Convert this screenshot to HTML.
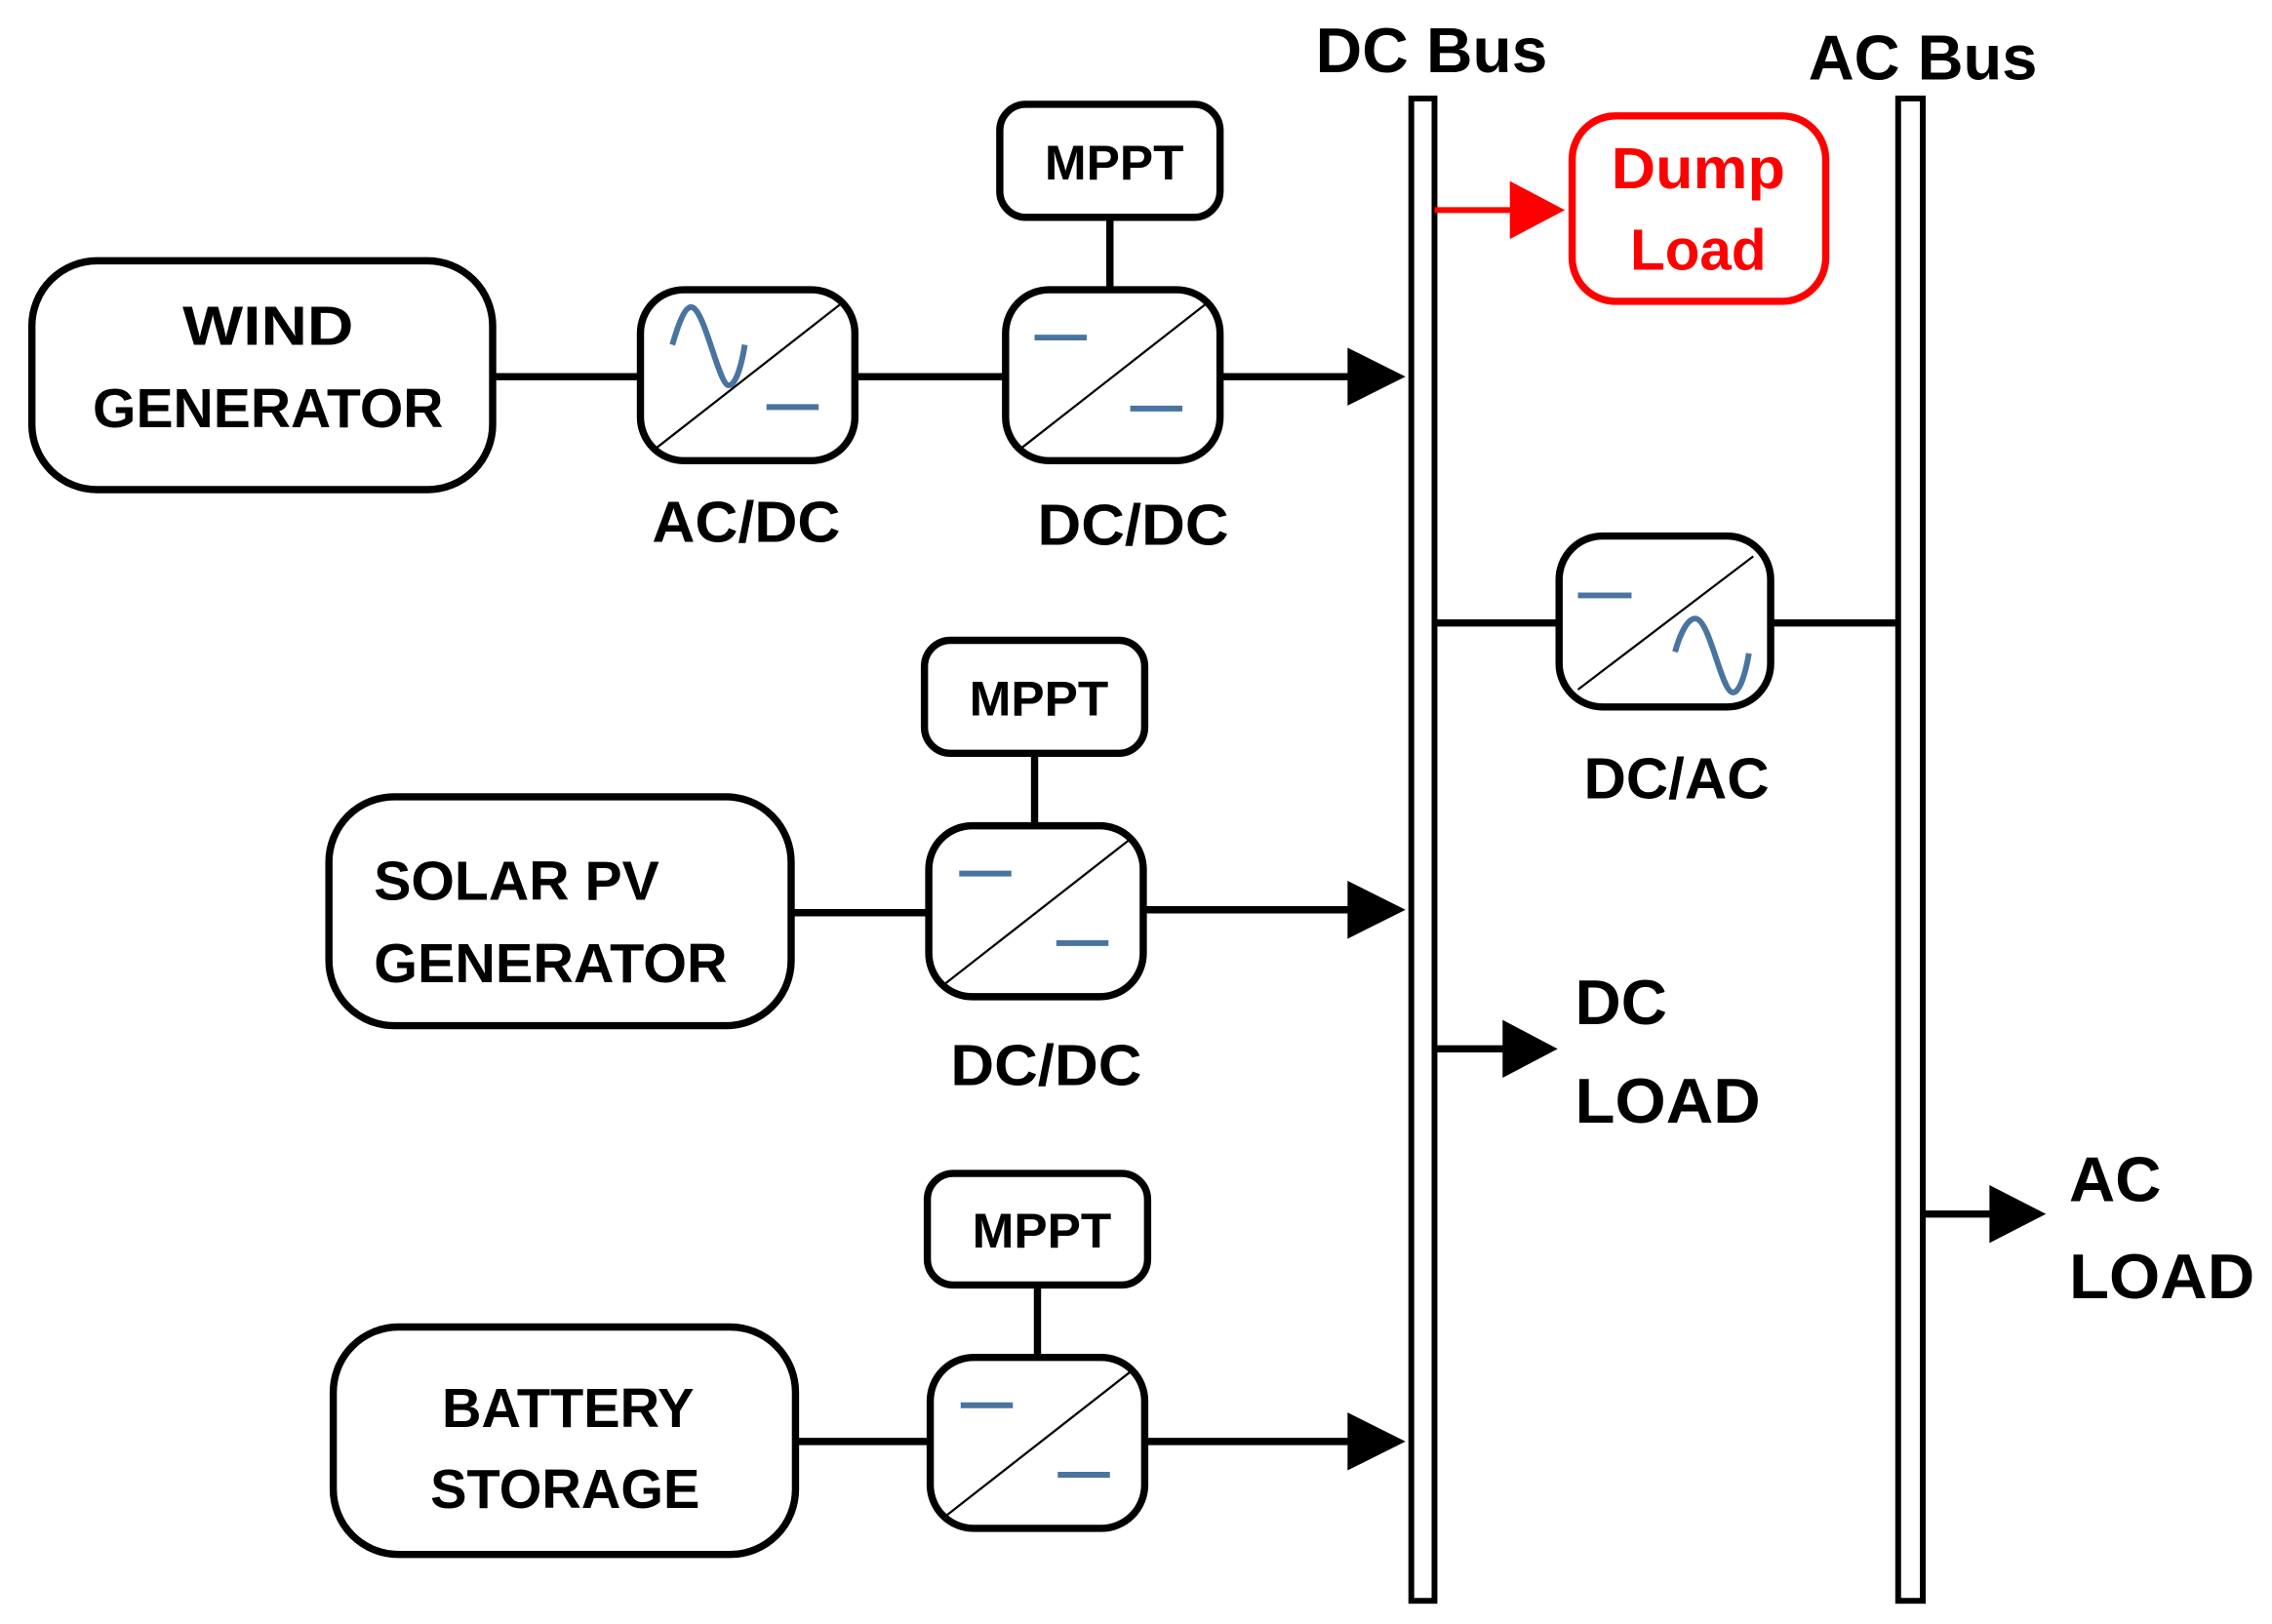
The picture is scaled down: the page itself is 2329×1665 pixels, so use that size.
<!DOCTYPE html>
<html><head><meta charset="utf-8"><style>
html,body{margin:0;padding:0;background:#fff;}
svg{display:block;}
text{font-family:"Liberation Sans",sans-serif;font-weight:bold;fill:#000;}
</style></head><body>
<svg width="2329" height="1665" viewBox="0 0 1568 1121" preserveAspectRatio="none" xmlns="http://www.w3.org/2000/svg">
<defs>
<g id="conv">
<rect x="0" y="0" width="148" height="118" rx="30" fill="#fff" stroke="#000" stroke-width="5"/>
<line x1="10" y1="110" x2="138" y2="10" stroke="#000" stroke-width="1.5"/>
</g>
</defs>
<g fill="none" stroke="#000" stroke-width="5">
<line x1="340" y1="260" x2="442" y2="260"/>
<line x1="590" y1="260" x2="694" y2="260"/>
<line x1="842" y1="260" x2="935" y2="260"/>
<line x1="766" y1="150" x2="766" y2="200"/>
<line x1="546" y1="630" x2="641" y2="630"/>
<line x1="790" y1="628" x2="935" y2="628"/>
<line x1="714" y1="520" x2="714" y2="570"/>
<line x1="549" y1="995" x2="641" y2="995"/>
<line x1="791" y1="995" x2="935" y2="995"/>
<line x1="716" y1="887" x2="716" y2="937"/>
<line x1="990" y1="430" x2="1076" y2="430"/>
<line x1="1222" y1="430" x2="1310" y2="430"/>
<line x1="990" y1="724" x2="1040" y2="724"/>
<line x1="1327" y1="838" x2="1376" y2="838"/>
<rect x="22" y="180" width="318" height="158" rx="45"/>
<rect x="227" y="550" width="319" height="158" rx="45"/>
<rect x="230" y="916" width="319" height="157" rx="45"/>
<rect x="690" y="72" width="152" height="78" rx="18"/>
<rect x="638" y="442" width="152" height="78" rx="18"/>
<rect x="640" y="810" width="152" height="77" rx="18"/>
<rect x="974" y="68" width="16" height="1037" stroke-width="4"/>
<rect x="1310" y="68" width="17" height="1037" stroke-width="4"/>
</g>
<g fill="#000">
<polygon points="930,240 970,260 930,280"/>
<polygon points="930,608 970,628 930,648"/>
<polygon points="930,975 970,995 930,1015"/>
<polygon points="1037,704 1075,724 1037,744"/>
<polygon points="1373,818 1412,838 1373,858"/>
</g>
<line x1="990" y1="145" x2="1045" y2="145" stroke="#f00" stroke-width="4"/>
<polygon points="1042,125 1080,145 1042,165" fill="#f00"/>
<rect x="1085" y="80" width="175" height="128" rx="30" fill="none" stroke="#f00" stroke-width="5"/>
<text x="1172" y="130" text-anchor="middle" font-size="40" textLength="120" lengthAdjust="spacingAndGlyphs" style="fill:#f00">Dump</text>
<text x="1172" y="186" text-anchor="middle" font-size="40" textLength="94" lengthAdjust="spacingAndGlyphs" style="fill:#f00">Load</text>
<use href="#conv" x="442" y="200"/>
<use href="#conv" x="694" y="200"/>
<use href="#conv" x="641" y="570"/>
<use href="#conv" x="642" y="937"/>
<rect x="1076" y="370" width="146" height="118" rx="30" fill="#fff" stroke="#000" stroke-width="5"/>
<line x1="1089" y1="476" x2="1210" y2="384" stroke="#000" stroke-width="1.5"/>
<g stroke="#4a74a0" stroke-width="4" fill="none">
<path d="M464,238 C469,221 473,212 477,212 C486,212 496,266 503,266 C508,266 512,251 514,238"/>
<line x1="529" y1="281" x2="565" y2="281"/>
<line x1="714" y1="233" x2="750" y2="233"/><line x1="780" y1="282" x2="816" y2="282"/>
<line x1="662" y1="603" x2="698" y2="603"/><line x1="729" y1="651" x2="765" y2="651"/>
<line x1="663" y1="970" x2="699" y2="970"/><line x1="730" y1="1018" x2="766" y2="1018"/>
<line x1="1089" y1="411" x2="1126" y2="411"/>
<path d="M1156,450 C1160,436 1165,427 1170,427 C1180,427 1188,478 1196,478 C1201,478 1205,463 1207,451"/>
</g>
<g font-size="38" text-anchor="middle">
<text x="185" y="238" textLength="118" lengthAdjust="spacingAndGlyphs">WIND</text>
<text x="185" y="295" textLength="242" lengthAdjust="spacingAndGlyphs">GENERATOR</text>
<text x="258" y="621" text-anchor="start" textLength="197" lengthAdjust="spacingAndGlyphs">SOLAR PV</text>
<text x="258" y="678" text-anchor="start" textLength="244" lengthAdjust="spacingAndGlyphs">GENERATOR</text>
<text x="392" y="985" textLength="174" lengthAdjust="spacingAndGlyphs">BATTERY</text>
<text x="390" y="1041" textLength="186" lengthAdjust="spacingAndGlyphs">STORAGE</text>
</g>
<g font-size="34" text-anchor="middle">
<text x="769" y="124" textLength="96" lengthAdjust="spacingAndGlyphs">MPPT</text>
<text x="717" y="494" textLength="96" lengthAdjust="spacingAndGlyphs">MPPT</text>
<text x="719" y="861" textLength="96" lengthAdjust="spacingAndGlyphs">MPPT</text>
</g>
<g font-size="40" text-anchor="middle">
<text x="515" y="374" textLength="130" lengthAdjust="spacingAndGlyphs">AC/DC</text>
<text x="782" y="376" textLength="132" lengthAdjust="spacingAndGlyphs">DC/DC</text>
<text x="722" y="749" textLength="132" lengthAdjust="spacingAndGlyphs">DC/DC</text>
<text x="1157" y="551" textLength="128" lengthAdjust="spacingAndGlyphs">DC/AC</text>
</g>
<g font-size="44">
<text x="988" y="50" text-anchor="middle" textLength="160" lengthAdjust="spacingAndGlyphs">DC Bus</text>
<text x="1327" y="55" text-anchor="middle" textLength="158" lengthAdjust="spacingAndGlyphs">AC Bus</text>
<text x="1087" y="707">DC</text>
<text x="1087" y="775" textLength="128" lengthAdjust="spacingAndGlyphs">LOAD</text>
<text x="1428" y="829">AC</text>
<text x="1428" y="896" textLength="128" lengthAdjust="spacingAndGlyphs">LOAD</text>
</g>
</svg>
</body></html>
